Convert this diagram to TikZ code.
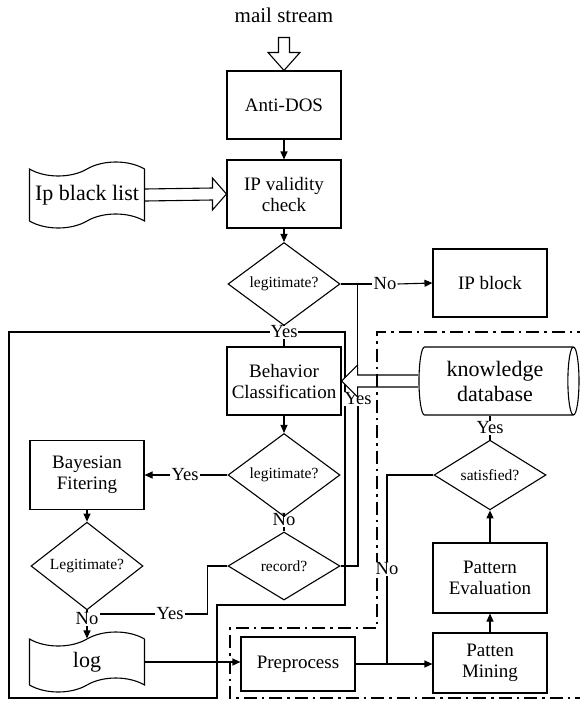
\documentclass[tikz,border=0pt]{standalone}
\usepackage{fontspec}
\setmainfont{Liberation Serif}
\usepackage{tikz}
\usetikzlibrary{arrows.meta,shapes.geometric,shapes.symbols,calc}

\begin{document}
\begin{tikzpicture}[x=1pt,y=-1pt]
    \tikzset{block/.style = {draw, line width=1.1pt, minimum width=114pt, minimum height=68pt, align=center, inner sep=2pt, font=\fontsize{19}{21}\selectfont}}
    \tikzset{decision/.style = {diamond, draw, line width=1.1pt, minimum width=112pt, minimum height=68pt, inner sep=0pt, font=\fontsize{15.5}{18}\selectfont}}
    \tikzset{paper/.style = {tape, draw, line width=1.1pt, tape bend height=14pt, minimum width=115pt, inner sep=3pt, align=center, font=\fontsize{22}{24}\selectfont}}
    \tikzset{lbl/.style = {inner sep=1pt, font=\fontsize{18.5}{20}\selectfont}}
    \tikzset{edge/.style = {-{Triangle[length=8pt,width=7pt]}, line width=1.1pt}}
    \tikzset{link/.style = {line width=1.1pt}}
    \tikzset{zone/.style = {line width=2.4pt}}
    \tikzset{dashzone/.style = {line width=2pt, dash pattern=on 13pt off 5pt on 2.5pt off 5pt}}
    \useasboundingbox (0,0) rectangle (579,702);
    % regions
    \draw[zone] (9,332) -- (345,332) -- (345,605) -- (217,605) -- (217,698) -- (9,698) -- cycle;
    \draw[dashzone] (590,332) -- (377,332) -- (377,628) -- (230,628) -- (230,698) -- (590,698);
    % vertices
    \node[font=\fontsize{21}{23}\selectfont] (mail) at (284,15) {mail stream};
    \node[block] (ados) at (284,105) {Anti-DOS};
    \node[block] (ipv) at (284,194) {IP validity\\check};
    \node[paper, minimum height=66pt] (list) at (87,195) {Ip black list};
    \node[decision] (leg1) at (284,284) {legitimate?};
    \node[block] (ipb) at (490,283) {IP block};
    \node[block] (beh) at (284,381) {Behavior\\Classification};
    \node[draw, cylinder, aspect=0.25, line width=1.1pt, minimum width=68pt, minimum height=160pt, align=center, inner sep=2pt, font=\fontsize{22}{25}\selectfont] (kdb) at (495,381) {knowledge\\database};
    \node[decision] (leg2) at (284,475) {legitimate?};
    \node[block, minimum height=69pt] (bay) at (87,475) {Bayesian\\Fitering};
    \node[decision] (rec) at (284,566) {record?};
    \node[decision] (leg3) at (87,566) {Legitimate?};
    \node[paper, minimum height=60pt] (log) at (87,662) {log};
    \node[block, minimum height=54pt] (pre) at (298,664) {Preprocess};
    \node[block, minimum height=60pt] (pm) at (490,663) {Patten\\Mining};
    \node[block, minimum height=70pt] (pe) at (490,578) {Pattern\\Evaluation};
    \node[decision, minimum height=66pt] (sat) at (490,475) {satisfied?};
    % labels
    \node[lbl] (no1) at (385,284) {No};
    \node[lbl, fill=white] (yes1) at (284,332) {Yes};
    \node[lbl] (yes2) at (185,475) {Yes};
    \node[lbl] (no2) at (284,520) {No};
    \node[lbl] (no3) at (87,619) {No};
    \node[lbl] (yes3) at (170,614) {Yes};
    \node[lbl, fill=white] (yes4) at (358,399) {Yes};
    \node[lbl, fill=white] (no4) at (387,569) {No};
    \node[lbl] (yes5) at (490,428) {Yes};
    \coordinate (up) at ($(beh.east)+(16,-6)$);
    % hollow arrows
    \draw[link] (ados.north) -- ++(-16,-18) -- ++(10.5,0) -- ++(0,-15) -- ++(11,0) -- ++(0,15) -- ++(10.5,0) -- cycle;
    \draw[link] ($(list.east)+(0,-6)$) -- ($(ipv.west)+(-14,-6)$) -- ++(0,-10) -- (ipv.west) -- ++(-14,16) -- ++(0,-10) -- ($(list.east)+(0,6)$);
    \fill[white] (beh.east) -- ++(16,-16) -- ++(0,32) -- cycle;
    \draw[link] ($(kdb.west)+(0,-6)$) -- (up) -- ++(0,-10) -- (beh.east) -- ++(16,16) -- ++(0,-10) -- ($(kdb.west)+(0,6)$);
    %edges
    \draw[edge] (ados) -- (ipv);
    \draw[edge] (ipv) -- (leg1);
    \draw[link] (leg1.east) -- (no1.west);
    \draw[edge] (no1.east) -- (ipb.west);
    \draw[link] (up |- leg1.east) -- (up);
    \draw[link] (leg1.south) -- (yes1.north);
    \draw[link] (yes1.south) -- (beh.north);
    \draw[edge] (beh) -- (leg2);
    \draw[link] (leg2.west) -- (yes2.east);
    \draw[edge] (yes2.west) -- (bay.east);
    \draw[link] (leg2.south) -- (no2.north);
    \draw[link] (no2.south) -- (rec.north);
    \draw[edge] (bay) -- (leg3);
    \draw[link] (leg3.south) -- (no3.north);
    \draw[edge] (no3.south) -- (log.north);
    \draw[link] (rec.west) -- ++(-20,0) |- (yes3.east);
    \draw[link] (yes3.west) -- (no3.east |- yes3.west);
    \draw[link] (rec.east) -| (yes4.south);
    \draw[edge] (log.east) -- (log.east -| pre.west);
    \draw[edge] (pre.east) -- (pre.east -| pm.west);
    \draw[link] (sat.west) -| (no4.north);
    \draw[link] (no4.south) -- (no4.south |- pre.east);
    \draw[edge] (pm) -- (pe);
    \draw[edge] (pe) -- (sat);
    \draw[link] (sat.north) -- (yes5.south);
    \draw[link] (yes5.north) -- (yes5.north |- kdb.south);
\end{tikzpicture}
\end{document}
